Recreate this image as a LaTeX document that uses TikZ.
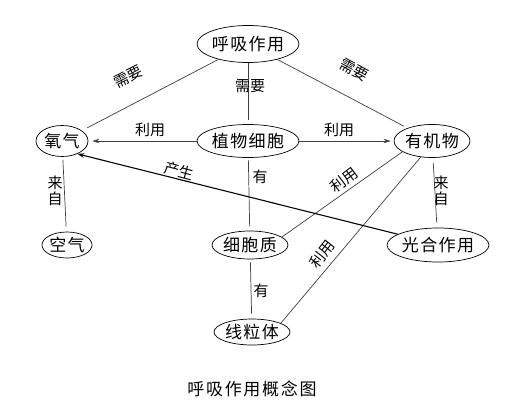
\documentclass[tikz,border=0pt]{standalone}
\usepackage{fontspec}
\setmainfont{Noto Sans CJK SC}
\usetikzlibrary{shapes.geometric,arrows.meta}
\begin{document}
\begin{tikzpicture}[x=1pt,y=-1pt,
  concept/.style={draw,ellipse,inner sep=0pt,line width=0.7pt,
    font=\fontsize{17}{18}\selectfont\addfontfeature{LetterSpace=8}},
  lbl/.style={inner sep=0pt,font=\fontsize{15}{16}\selectfont},
  link/.style={draw=black!75,line width=0.7pt},
  arr/.style={-{Stealth[length=7pt,width=4.5pt]}}]
\useasboundingbox[fill=white] (0,0) rectangle (527,415);
\node[concept,minimum width=88pt,minimum height=37pt] (resp) at (248,44) {呼吸作用};
\node[concept,minimum width=52pt,minimum height=31pt] (oxy) at (62,141) {氧气};
\node[concept,minimum width=88pt,minimum height=33pt] (cell) at (248,141) {植物细胞};
\node[concept,minimum width=66pt,minimum height=33pt] (org) at (432,141) {有机物};
\node[concept,minimum width=50pt,minimum height=26pt] (air) at (67,245) {空气};
\node[concept,minimum width=74pt,minimum height=28pt] (cyto) at (250,245) {细胞质};
\node[concept,minimum width=88pt,minimum height=34pt] (photo) at (438,245) {光合作用};
\node[concept,minimum width=74pt,minimum height=26pt] (mito) at (252,332) {线粒体};
\node[font=\fontsize{17}{18}\selectfont\addfontfeature{LetterSpace=10}] (title) at (252,389) {呼吸作用概念图};
\draw[link,shorten >=6pt] (resp) -- (oxy);
\draw[link,shorten >=4pt] (resp) -- (org);
\draw[link,shorten >=4pt] (resp) -- (cell);
\draw[link,arr,shorten >=4pt] (cell) -- (oxy);
\draw[link,arr,shorten >=3pt] (cell) -- (org);
\draw[link,shorten <=3pt,shorten >=5pt] (oxy) -- (air);
\draw[link,shorten <=2pt,shorten >=4pt] (cell) -- (cyto);
\draw[link,shorten <=3pt,shorten >=5pt] (cyto) -- (mito);
\draw[link,shorten <=5pt,shorten >=5pt] (org) -- (photo);
\draw[link] (cyto.14) -- (org.200);
\draw[link] (mito.17) -- (org.235);
\draw[arr,line width=1.1pt] (photo.165) -- (oxy.-40);
\node[lbl,rotate=27] (l1) at (128,77) {需要};
\node[lbl,rotate=-29] (l2) at (354,70) {需要};
\node[lbl] (l3) at (250,86) {需要};
\node[lbl] (l4) at (150,130) {利用};
\node[lbl] (l5) at (339,130) {利用};
\node[lbl,align=center] (l6) at (55,191) {来\\自};
\node[lbl] (l7) at (260,177) {有};
\node[lbl] (l8) at (261,291) {有};
\node[lbl,align=center] (l9) at (441,191) {来\\自};
\node[lbl,rotate=-15] (l10) at (179,171) {产生};
\node[lbl,rotate=37] (l11) at (344,180) {利用};
\node[lbl,rotate=52] (l12) at (322,254) {利用};
\end{tikzpicture}
\end{document}
